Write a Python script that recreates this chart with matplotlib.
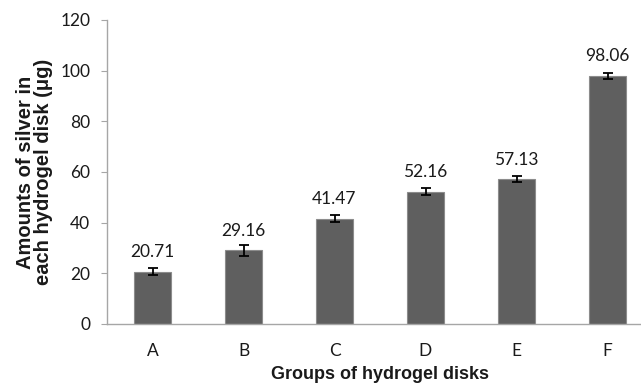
import matplotlib
matplotlib.use("Agg")
import matplotlib.pyplot as plt

categories = ["A", "B", "C", "D", "E", "F"]
values = [20.71, 29.16, 41.47, 52.16, 57.13, 98.06]
errors = [1.5, 2.2, 1.4, 1.4, 1.2, 1.2]
labels = ["20.71", "29.16", "41.47", "52.16", "57.13", "98.06"]

fig = plt.figure(figsize=(6.41, 3.86), dpi=100)
ax = fig.add_axes([107/641, 1-324/386, 546/641, (324-20)/386])

x = list(range(len(categories)))
ax.bar(x, values, width=0.4, color="#5f5f5f", edgecolor="#8c8c8c", linewidth=0.8,
       yerr=errors, error_kw=dict(ecolor="black", elinewidth=1.3, capsize=3.5, capthick=1.3), zorder=2)

for xi, v, lab in zip(x, values, labels):
    ax.annotate(lab, (xi, v), xytext=(0, 14), textcoords="offset points",
                ha="center", va="center", fontsize=12.5, family="Lato", color="#1a1a1a")

ax.set_xlim(-0.5, 5.5)
ax.set_ylim(0, 120)
ax.set_yticks(range(0, 121, 20))
ax.set_xticks(x)
ax.set_xticklabels(categories, family="Lato", fontsize=12.5)
for t in ax.get_yticklabels():
    t.set_family("Lato"); t.set_fontsize(12.5)

for s in ["top", "right"]:
    ax.spines[s].set_visible(False)
for s in ["left", "bottom"]:
    ax.spines[s].set_color("#a6a6a6")
    ax.spines[s].set_linewidth(1.0)
ax.tick_params(axis="y", length=4, color="#a6a6a6", pad=8, labelcolor="#1a1a1a")
ax.tick_params(axis="x", length=0, pad=14, labelcolor="#1a1a1a")

ax.set_xlabel("Groups of hydrogel disks", family="Liberation Sans", fontweight="bold",
              fontsize=13, labelpad=5, color="#1a1a1a")
ax.set_ylabel("Amounts of silver in\neach hydrogel disk (μg)", family="Liberation Sans",
              fontweight="bold", fontsize=14.5, labelpad=5, linespacing=0.95, color="#1a1a1a")

fig.savefig("out.png", dpi=100)
